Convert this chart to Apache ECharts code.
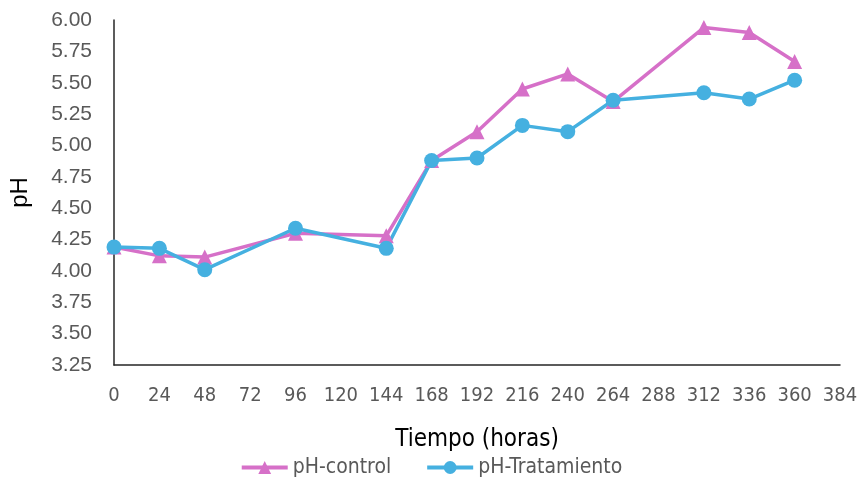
<!DOCTYPE html>
<html>
<head>
<meta charset="utf-8">
<script src="https://cdn.jsdelivr.net/npm/echarts@6/dist/echarts.min.js"></script>
<style>
  html, body { margin: 0; padding: 0; background: #fff; }
  #chart { width: 862px; height: 485px; }
</style>
</head>
<body>
<div id="chart"></div>
<script>
const hours = [0, 24, 48, 96, 144, 168, 192, 216, 240, 264, 312, 336, 360]
const phControl = [4.19, 4.12, 4.11, 4.30, 4.28, 4.88, 5.11, 5.45, 5.57, 5.35, 5.94, 5.90, 5.67]
const phTratamiento = [4.19, 4.18, 4.01, 4.34, 4.18, 4.88, 4.90, 5.16, 5.11, 5.36, 5.42, 5.37, 5.52]

const fontName = '"Liberation Sans", sans-serif'
const narrowFont = '"DejaVu Sans Condensed", "Liberation Sans", sans-serif'
const toPairs = (ys) => hours.map((h, i) => [h, ys[i]])

const myChart = echarts.init(document.getElementById('chart'))
myChart.setOption({
  animation: false,
  textStyle: { fontFamily: fontName },
  grid: {
    left: 112,
    right: 22,
    top: 20,
    bottom: 120
  },
  legend: {
    bottom: 2,
    left: 'center',
    itemWidth: 46,
    itemHeight: 16,
    itemGap: 34,
    lineStyle: { width: 4 },
    textStyle: { fontSize: 21, color: '#595959', fontFamily: narrowFont },
    data: ['pH-control', 'pH-Tratamiento']
  },
  xAxis: {
    type: 'value',
    min: 0,
    max: 384,
    interval: 24,
    name: 'Tiempo (horas)',
    nameLocation: 'middle',
    nameGap: 63,
    nameTextStyle: { fontSize: 24, color: '#000', fontFamily: narrowFont },
    axisLine: { show: true, lineStyle: { color: '#262626', width: 1.5 } },
    axisTick: { show: false },
    splitLine: { show: false },
    axisLabel: { fontSize: 20, color: '#595959', margin: 21, fontFamily: narrowFont }
  },
  yAxis: {
    type: 'value',
    min: 3.25,
    max: 6,
    interval: 0.25,
    name: 'pH',
    nameLocation: 'middle',
    nameGap: 82,
    nameRotate: 90,
    nameTextStyle: { fontSize: 24, color: '#000', fontFamily: fontName },
    axisLine: { show: true, lineStyle: { color: '#262626', width: 1.5 } },
    axisTick: { show: false },
    splitLine: { show: false },
    axisLabel: {
      fontSize: 21,
      color: '#595959',
      margin: 22,
      formatter: (v) => v.toFixed(2)
    }
  },
  series: [
    {
      name: 'pH-control',
      type: 'line',
      data: toPairs(phControl),
      symbol: 'triangle',
      symbolSize: 15,
      itemStyle: { color: '#D670C8' },
      lineStyle: { color: '#D670C8', width: 3.5 }
    },
    {
      name: 'pH-Tratamiento',
      type: 'line',
      data: toPairs(phTratamiento),
      symbol: 'circle',
      symbolSize: 15,
      itemStyle: { color: '#45B0E0' },
      lineStyle: { color: '#45B0E0', width: 3.5 }
    }
  ]
})
</script>
</body>
</html>
